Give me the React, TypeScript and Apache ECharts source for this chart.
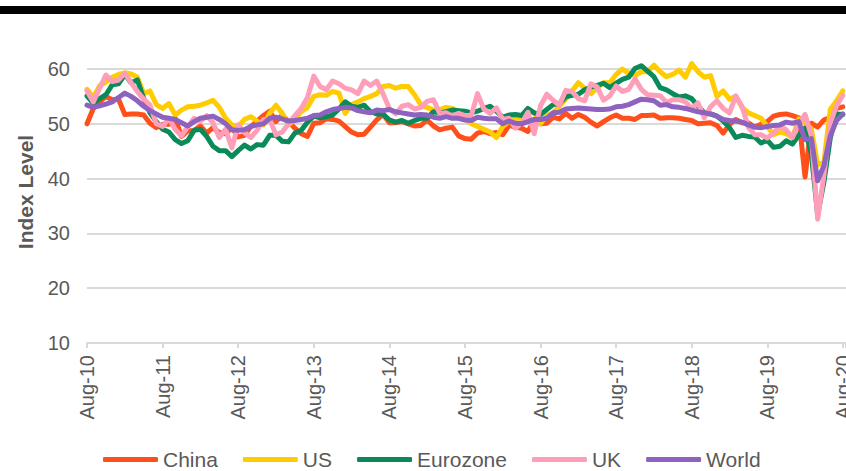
import React, { useEffect, useRef } from "react";
import * as echarts from "echarts";

const tickLabels = ["Aug-10", "Aug-11", "Aug-12", "Aug-13", "Aug-14", "Aug-15", "Aug-16", "Aug-17", "Aug-18", "Aug-19", "Aug-20"];
const seriesNames = ["China", "US", "Eurozone", "UK", "World"];
const seriesColors = ["#FF4F1A", "#FFCC00", "#0A8A58", "#FF9EB8", "#8E62BF"];

const china = [
  50.0, 52.8, 54.0, 55.0, 54.4,
  54.5, 51.7, 51.8, 51.8, 51.6, 50.1, 49.3, 49.9, 49.9, 51.0, 47.7, 48.7,
  48.8, 49.6, 48.3, 49.3, 48.4, 48.2, 49.3, 47.6, 47.9, 49.5, 50.5, 51.5,
  52.3, 50.4, 51.6, 50.4, 49.2, 48.2, 47.7, 50.1, 50.2, 50.9, 50.8, 50.5,
  49.5, 48.5, 48.0, 48.1, 49.4, 50.7, 51.7, 50.2, 50.2, 50.4, 50.0, 49.6,
  49.7, 50.7, 49.6, 48.9, 49.2, 49.4, 47.8, 47.3, 47.2, 48.3, 48.6, 48.2,
  48.4, 48.0, 49.7, 49.4, 49.2, 48.6, 50.6, 50.0, 50.1, 51.2, 50.9, 51.9,
  51.0, 51.7, 51.2, 50.3, 49.6, 50.4, 51.1, 51.6, 51.0, 51.0, 50.8, 51.5,
  51.5, 51.6, 51.0, 51.1, 51.1, 51.0, 50.8, 50.6, 50.0, 50.1, 50.2, 49.7,
  48.3, 49.9, 50.8, 50.2, 50.2, 49.4, 49.9, 50.4, 51.4, 51.7, 51.8, 51.5,
  51.1, 40.3, 50.1, 49.4, 50.7, 51.2, 52.8, 53.1,
];

const us = [
  56.3, 54.8, 56.9, 57.6, 58.5,
  59.0, 59.3, 59.1, 58.5, 55.5, 56.0, 53.5, 52.8, 53.7, 51.6, 52.5, 53.1,
  53.2, 53.4, 53.8, 54.3, 53.0, 51.0, 49.8, 49.5, 50.8, 51.3, 50.5, 49.8,
  51.9, 53.4, 51.9, 49.8, 50.8, 52.2, 53.0, 55.0, 55.3, 55.2, 55.9, 55.6,
  51.9, 53.5, 54.0, 54.6, 55.0, 55.5, 56.8, 57.0, 56.5, 56.8, 56.8, 55.3,
  53.5, 53.0, 52.5, 52.6, 53.0, 52.8, 52.3, 51.0, 50.0, 49.5, 49.0, 48.5,
  47.5, 49.5, 50.5, 51.0, 51.0, 52.5, 52.0, 50.0, 51.5, 52.0, 53.2, 54.5,
  56.0, 57.5, 56.5, 55.5, 56.5, 57.5, 57.5, 59.0, 60.0, 59.2, 58.8, 59.5,
  59.5, 60.7, 59.5, 58.6, 59.0, 59.8, 58.5, 61.0, 59.5, 58.5, 58.8, 55.0,
  56.0, 54.5, 55.0, 53.0, 52.0, 51.5, 51.0, 49.5, 48.0, 48.5, 48.2, 47.5,
  50.9, 50.1, 49.1, 42.5, 43.1, 52.6, 54.2, 56.0,
];

const eurozone = [
  55.1, 53.7, 54.6, 55.3, 57.1,
  57.3, 59.0, 57.5, 58.0, 54.6, 52.0, 50.4, 49.0, 48.5, 47.1, 46.4, 46.9,
  48.8, 49.0, 47.7, 45.9, 45.1, 45.1, 44.0, 45.1, 46.1, 45.4, 46.2, 46.1,
  47.9, 47.9, 46.8, 46.7, 48.3, 48.8, 50.3, 51.4, 51.1, 51.3, 51.6, 52.7,
  54.0, 53.2, 53.0, 53.4, 52.2, 51.8, 51.8, 50.7, 50.3, 50.6, 50.1, 50.6,
  51.0, 51.0, 52.2, 52.0, 52.2, 52.5, 52.4, 52.3, 52.0, 52.3, 52.8, 53.2,
  52.3, 51.2, 51.6, 51.7, 51.5, 52.8, 52.0, 51.7, 52.6, 53.5, 53.7, 54.9,
  55.2, 55.4, 56.2, 56.7, 57.0, 57.4, 56.6, 57.4, 58.1, 58.5, 60.1, 60.6,
  59.6, 58.6, 56.6, 56.2, 55.5, 54.9, 55.1, 54.6, 53.2, 52.0, 51.8, 51.4,
  50.5, 49.3, 47.5, 47.9, 47.7, 47.6, 46.5, 47.0, 45.7, 45.9, 46.9, 46.3,
  47.9, 49.2, 44.5, 33.4, 39.4, 47.4, 51.8, 51.7,
];

const uk = [
  56.0, 54.0, 56.5, 58.9, 57.7,
  58.0, 59.2, 57.5, 55.9, 54.5, 53.4, 50.0, 49.5, 51.0, 49.0, 47.8, 49.5,
  51.0, 50.5, 51.5, 50.2, 47.5, 49.0, 45.6, 49.8, 48.4, 47.5, 48.8, 50.8,
  50.8, 48.0, 48.5, 50.0, 51.5, 52.8, 54.8, 58.7, 56.8, 56.2, 57.8, 57.3,
  56.5, 56.2, 55.5, 57.8, 57.0, 57.8, 55.5, 52.8, 51.8, 53.2, 53.5, 52.7,
  53.0, 54.1, 54.4, 51.9, 52.0, 51.4, 51.9, 51.5, 51.5, 55.5, 52.7, 51.9,
  52.9, 50.8, 51.0, 49.2, 50.1, 52.1, 48.2, 53.3, 55.4, 54.3, 53.4, 56.1,
  55.9, 54.6, 54.2, 57.3, 56.7, 54.3, 55.1, 56.9, 55.9, 56.3, 58.2, 56.3,
  55.3, 55.2, 55.1, 53.9, 54.4, 54.4, 54.0, 52.8, 53.8, 51.1, 53.1, 54.2,
  52.8, 52.0, 55.1, 53.1, 49.4, 48.0, 48.0, 47.4, 48.3, 49.6, 48.9, 47.5,
  50.0, 51.7, 47.8, 32.6, 40.7, 50.1, 53.3, 55.2,
];

const world = [
  53.4, 53.0, 53.3, 53.6, 54.0,
  54.8, 55.6, 55.0, 54.2, 53.2, 52.4, 51.8, 51.2, 51.0, 50.8, 50.2, 49.6,
  50.4, 51.0, 51.2, 51.4, 50.8, 50.0, 48.9, 48.8, 48.9, 49.5, 49.8, 50.0,
  51.0, 51.2, 50.9, 50.5, 50.6, 50.8, 51.0, 51.5, 51.6, 52.2, 52.6, 52.8,
  53.0, 52.9, 52.4, 52.2, 52.0, 52.5, 52.4, 52.6, 52.2, 52.0, 51.8, 51.6,
  51.7, 51.6, 51.2, 51.0, 51.3, 51.0, 51.0, 50.7, 50.6, 51.2, 51.0, 50.9,
  50.9, 50.0, 50.5, 50.1, 50.0, 50.4, 50.8, 50.8, 51.0, 52.0, 52.1, 52.7,
  52.8, 52.9, 52.8, 52.7, 52.6, 52.6, 52.7, 53.1, 53.2, 53.5, 54.0, 54.5,
  54.4, 54.2, 53.4, 53.5, 53.1, 53.0, 52.8, 52.5, 52.2, 52.0, 51.8, 51.4,
  50.8, 50.6, 50.5, 50.3, 49.8, 49.4, 49.3, 49.5, 49.7, 49.8, 50.3, 50.1,
  50.4, 47.1, 47.3, 39.6, 42.4, 47.8, 50.6, 51.8,
];

const allSeries = [china, us, eurozone, uk, world];
const FONT = "'Liberation Sans', Arial, sans-serif";

export default function App() {
  const ref = useRef<HTMLDivElement>(null);
  useEffect(() => {
    if (!ref.current) return;
    const chart = echarts.init(ref.current, undefined, { renderer: "svg" });
    chart.setOption({
      animation: false,
      backgroundColor: "#ffffff",
      grid: {
        left: 87,
        right: 0,
        top: 69,
        bottom: 128,
        containLabel: false,
        outerBoundsMode: "none",
      },
      xAxis: {
        type: "value",
        min: 0,
        max: 120.5,
        interval: 12,
        axisLine: { show: true, lineStyle: { color: "#d9d9d9", width: 2 } },
        axisTick: { show: true, length: 5, lineStyle: { color: "#d9d9d9", width: 2 } },
        splitLine: { show: false },
        axisLabel: {
          rotate: 90,
          fontSize: 20,
          color: "#595959",
          fontFamily: FONT,
          margin: 12,
          hideOverlap: false,
          formatter: (v: number) => (Math.abs(v % 12) < 1e-6 ? tickLabels[Math.round(v / 12)] ?? "" : ""),
        },
      },
      yAxis: {
        type: "value",
        min: 10,
        max: 60,
        interval: 10,
        axisLine: { show: false },
        axisTick: { show: false },
        splitLine: { lineStyle: { color: "#d9d9d9", width: 2 } },
        axisLabel: { fontSize: 20, color: "#595959", fontFamily: FONT, margin: 17 },
      },
      legend: {
        left: 98,
        top: 444,
        itemWidth: 55,
        itemHeight: 5,
        itemGap: 25,
        icon: "roundRect",
        data: seriesNames,
        textStyle: { fontSize: 21, color: "#595959", fontFamily: FONT },
      },
      graphic: [
        { type: "rect", left: 0, top: 6, shape: { width: 846, height: 8 }, style: { fill: "#000000" } },
        {
          type: "text",
          x: 25,
          y: 192,
          rotation: Math.PI / 2,
          style: {
            text: "Index Level",
            fill: "#595959",
            font: `bold 21px ${FONT}`,
            align: "center",
            verticalAlign: "middle",
          },
        },
      ],
      series: allSeries.map((vals, k) => ({
        name: seriesNames[k],
        type: "line",
        data: vals.map((v, i) => [i, v]),
        symbol: "none",
        showSymbol: false,
        clip: false,
        color: seriesColors[k],
        itemStyle: { color: seriesColors[k] },
        lineStyle: { width: 5, color: seriesColors[k], cap: "round", join: "round" },
        z: 2 + k,
      })),
    });
    return () => chart.dispose();
  }, []);
  return (
    <div
      ref={ref}
      style={{ position: "absolute", left: 0, top: 0, width: 846, height: 471 }}
    />
  );
}
